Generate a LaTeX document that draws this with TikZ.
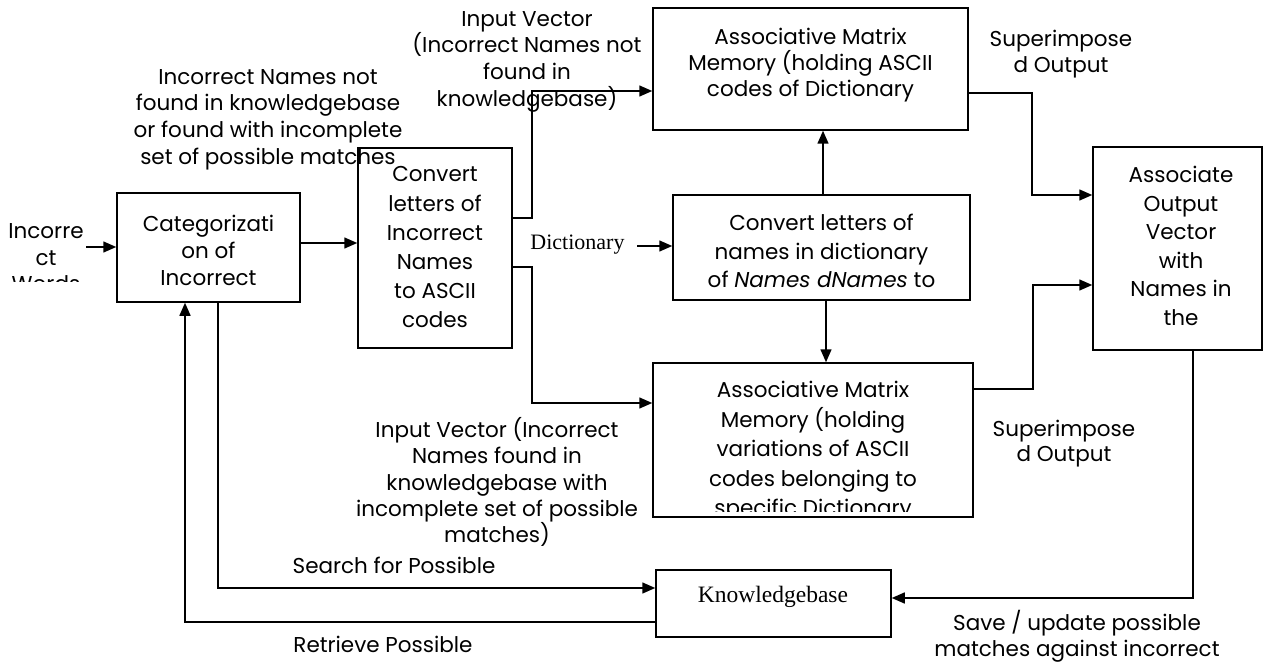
\documentclass[tikz,border=0pt]{standalone}
\usepackage{fontspec}
\setmainfont{Poppins}
\newfontfamily\seriffont{Liberation Serif}
\usetikzlibrary{arrows.meta}
\tikzset{
  txt/.style={align=center, inner sep=0pt, font=\fontsize{21.5}{#1}\selectfont},
  txt/.default=27,
  sertxt/.style={inner sep=0pt, font=\seriffont\fontsize{#1}{26}\selectfont},
  sertxt/.default=22,
  blk/.style={draw, line width=1.5pt, inner sep=0pt},
  wire/.style={line width=1.5pt},
  arr/.style={wire, -{Triangle[length=13pt,width=11pt]}}
}
\begin{document}
\begin{tikzpicture}[x=1pt,y=-1pt]
\useasboundingbox (0,0) rectangle (1264,663);
\fill[white] (0,0) rectangle (1264,663);

% boxes
\node[blk, minimum width=183pt, minimum height=109pt] (cat) at (208.5,247.5) {};
\node[blk, minimum width=154pt, minimum height=200pt] (conv) at (435,248) {};
\node[blk, minimum width=315pt, minimum height=122pt] (amm1) at (810.5,69) {};
\node[blk, minimum width=297pt, minimum height=105pt] (conv2) at (821.5,247.5) {};
\node[blk, minimum width=320pt, minimum height=154pt] (amm2) at (813,440) {};
\node[blk, minimum width=235pt, minimum height=67pt] (kb) at (773.5,603.5) {};
\node[blk, minimum width=169pt, minimum height=203pt] (assoc) at (1177.5,248.5) {};

% texts
\begin{scope}
  \clip (0,200) rectangle (110,281);
  \node[txt=26.5] (inw) at (46,258) {Incorre\\ct\\Words};
\end{scope}
\node[txt=27] (cattxt) at (208.5,250.5) {Categorizati\\on of\\Incorrect};
\node[txt=26.7] (lbl1) at (268,119.5) {Incorrect Names not\\found in knowledgebase\\or found with incomplete\\set of possible matches};
\node[txt=29.2] (convtxt) at (435,247.5) {Convert\\letters of\\Incorrect\\Names\\to ASCII\\codes};
\node[txt=26.7] (lbl2) at (527,61.5) {Input Vector\\(Incorrect Names not\\found in\\knowledgebase)};
\node[txt=26] (amm1txt) at (810.5,65.5) {Associative Matrix\\Memory (holding ASCII\\codes of Dictionary};
\node[txt=26] (sup1) at (1061,54.5) {Superimpose\\d Output};
\node[sertxt, anchor=base] (dict) at (577.5,250) {Dictionary};
\node[txt=28.5] (conv2txt) at (821.5,251) {Convert letters of\\names in dictionary\\of {\itshape Names dNames} to};
\node[txt=28.6] (assoctxt) at (1181,246) {Associate\\Output\\Vector\\with\\Names in\\the};
\begin{scope}
  \clip (653,363) rectangle (973,511);
  \node[txt=29.5] (amm2txt) at (813,451.5) {Associative Matrix\\Memory (holding\\variations of ASCII\\codes belonging to\\specific Dictionary};
\end{scope}
\node[txt=26.25] (lbl3) at (497,482) {Input Vector (Incorrect\\Names found in\\knowledgebase with\\incomplete set of possible\\matches)};
\node[txt=25] (sup2) at (1064,444) {Superimpose\\d Output};
\node[txt, anchor=base] (search) at (394,573) {Search for Possible};
\node[txt, anchor=base] (retr) at (383,652) {Retrieve Possible};
\node[sertxt=23.5, anchor=base] (kbtxt) at (773,602) {Knowledgebase};
\node[txt=26] (save) at (1077,636) {Save / update possible\\matches against incorrect};

% free ends
\coordinate (inwend) at (86,247);
\coordinate (dictend) at (637,246);

% connectors
\draw[arr] (inwend) -- (cat.west |- inwend);
\draw[arr] (cat.east |- 0,243) -- (conv.west |- 0,243);
\draw[arr] (conv.east |- 0,218) -| (532,91) -- (amm1.west |- 0,91);
\draw[arr] (conv.east |- 0,267) -| (532,403) -- (amm2.west |- 0,403);
\draw[arr] (dictend) -- (conv2.west |- dictend);
\draw[arr] (conv2.north -| 823,0) -- (amm1.south -| 823,0);
\draw[arr] (conv2.south -| 826,0) -- (amm2.north -| 826,0);
\draw[arr] (amm1.east |- 0,93) -| (1032,195) -- (assoc.west |- 0,195);
\draw[arr] (amm2.east |- 0,389) -| (1033,285) -- (assoc.west |- 0,285);
\draw[arr] (assoc.south -| 1193,0) |- (kb.east |- 0,598);
\draw[arr] (cat.south -| 218,0) |- (kb.west |- 0,588);
\draw[arr] (kb.west |- 0,622) -| (cat.south -| 185,0);
\end{tikzpicture}
\end{document}
